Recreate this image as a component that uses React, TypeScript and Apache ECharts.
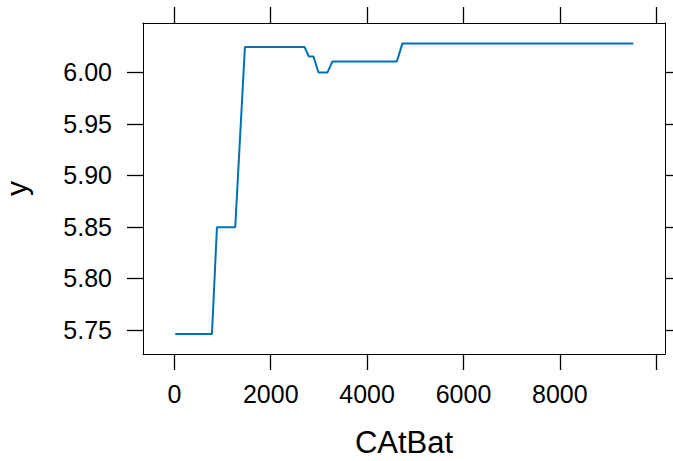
import React, { useEffect, useRef } from "react";
import * as echarts from "echarts";

const xValues = [19, 780, 884, 1263, 1464, 2701, 2792, 2887, 2991, 3178, 3281, 4617, 4733, 9525];
const yValues = [5.7461, 5.7461, 5.8498, 5.8498, 6.0247, 6.0247, 6.0155, 6.0155, 6.0, 6.0, 6.0107, 6.0107, 6.0282, 6.0282];
const xTicks = [0, 2000, 4000, 6000, 8000, 10000];
const xTickLabels = [0, 2000, 4000, 6000, 8000];
const yTicks = [5.75, 5.8, 5.85, 5.9, 5.95, 6.0];

const X_MIN = -651;
const X_MAX = 10182;
const Y_MIN = 5.7267;
const Y_MAX = 6.048;
const FONT = "Liberation Sans, Arial, Helvetica, sans-serif";

export default function App() {
  const ref = useRef<HTMLDivElement>(null);
  useEffect(() => {
    if (!ref.current) return;
    const chart = echarts.init(ref.current, null, { renderer: "svg" });
    const axisLine = { show: true, onZero: false, lineStyle: { color: "#000", width: 1 } };
    const tick = (vals: number[]) => ({
      show: true,
      inside: false,
      length: 16,
      lineStyle: { color: "#000", width: 1.3 },
      customValues: vals,
    });
    chart.setOption({
      animation: false,
      backgroundColor: "#fff",
      grid: { left: 143, right: 8, top: 23, bottom: 107, containLabel: false, outerBoundsMode: "none" },
      xAxis: [
        {
          type: "value",
          position: "bottom",
          min: X_MIN,
          max: X_MAX,
          name: "CAtBat",
          nameLocation: "middle",
          nameGap: 73,
          nameTextStyle: { fontSize: 31, color: "#000", fontFamily: FONT },
          axisLine,
          axisTick: tick(xTicks),
          axisLabel: {
            show: true,
            margin: 27,
            fontSize: 25,
            color: "#000",
            fontFamily: FONT,
            customValues: xTickLabels,
            formatter: (v: number) => String(v),
          },
          splitLine: { show: false },
        },
        {
          type: "value",
          position: "top",
          min: X_MIN,
          max: X_MAX,
          axisLine,
          axisTick: tick(xTicks),
          axisLabel: { show: false },
          splitLine: { show: false },
        },
      ],
      yAxis: [
        {
          type: "value",
          position: "left",
          min: Y_MIN,
          max: Y_MAX,
          name: "y",
          nameLocation: "middle",
          nameGap: 112,
          nameRotate: 90,
          nameTextStyle: { fontSize: 30, color: "#000", fontFamily: FONT },
          axisLine,
          axisTick: tick(yTicks),
          axisLabel: {
            show: true,
            margin: 31,
            fontSize: 25,
            color: "#000",
            fontFamily: FONT,
            customValues: yTicks,
            formatter: (v: number) => v.toFixed(2),
          },
          splitLine: { show: false },
        },
        {
          type: "value",
          position: "right",
          min: Y_MIN,
          max: Y_MAX,
          axisLine,
          axisTick: tick(yTicks),
          axisLabel: { show: false },
          splitLine: { show: false },
        },
      ],
      series: [
        {
          type: "line",
          data: xValues.map((x, i) => [x, yValues[i]]),
          showSymbol: false,
          symbol: "none",
          lineStyle: { color: "#0072B2", width: 2 },
          xAxisIndex: 0,
          yAxisIndex: 0,
        },
      ],
    });
    return () => chart.dispose();
  }, []);
  return <div ref={ref} style={{ width: 673, height: 461, position: "absolute", left: 0, top: 0 }} />;
}
